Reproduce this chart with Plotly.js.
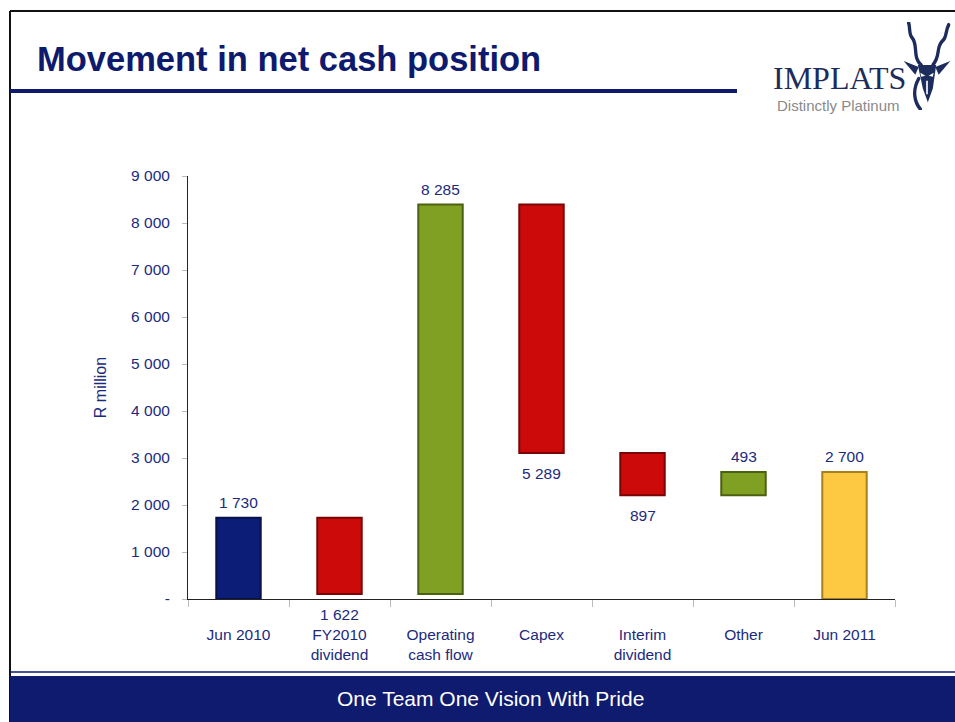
<!DOCTYPE html>
<html>
<head>
<meta charset="utf-8">
<script src="https://cdn.plot.ly/plotly-3.0.1.min.js"></script>
<style>
  html, body { margin: 0; padding: 0; background: #fff; }
  #chart { width: 955px; height: 722px; }
</style>
</head>
<body>
<div id="chart"></div>
<script>
// data (R million)
var categories = ['Jun 2010', 'FY2010<br>dividend', 'Operating<br>cash flow', 'Capex', 'Interim<br>dividend', 'Other', 'Jun 2011'];
var movements = [1730, -1622, 8285, -5289, -897, 493, 2700];
var measures = ['absolute', 'relative', 'relative', 'relative', 'relative', 'relative', 'total'];
var yTickVals = [0, 1000, 2000, 3000, 4000, 5000, 6000, 7000, 8000, 9000];
var yTickText = ['-', '1 000', '2 000', '3 000', '4 000', '5 000', '6 000', '7 000', '8 000', '9 000'];

// styling
var fillColors = ['#0c1d78', '#cc0a0a', '#80a023', '#cc0a0a', '#cc0a0a', '#80a023', '#fdc842'];
var edgeColors = ['#07114a', '#7a0505', '#4c6012', '#7a0505', '#7a0505', '#4c6012', '#a7801c'];
var navy = '#0d1a6e';
var textNavy = '#1b2a7e';
var font = 'Arial, "Liberation Sans", sans-serif';

// build floating bars: base + height
var bases = [], heights = [];
var running = 0;
movements.forEach(function (v, i) {
  if (measures[i] === 'absolute') {
    bases.push(0); heights.push(v); running = v;
  } else if (measures[i] === 'total') {
    bases.push(0); heights.push(running);
  } else {
    var start = running, end = running + v;
    bases.push(Math.min(start, end));
    heights.push(Math.abs(v));
    running = end;
  }
});

function fmt(n) {
  return String(Math.abs(n)).replace(/\B(?=(\d{3})+(?!\d))/g, ' ');
}

var trace = {
  type: 'bar',
  x: categories,
  y: heights,
  base: bases,
  marker: { color: fillColors, line: { color: edgeColors, width: 2 } },
  hoverinfo: 'skip'
};

// value labels: above rising bars, below falling bars
var annotations = movements.map(function (v, i) {
  var up = v >= 0;
  return {
    x: categories[i],
    y: up ? bases[i] + heights[i] : bases[i],
    xref: 'x', yref: 'y',
    text: fmt(v),
    showarrow: false,
    yanchor: up ? 'bottom' : 'top',
    yshift: up ? 5 : -10,
    font: { family: font, size: 15.5, color: textNavy }
  };
});

// plot area is x 188..895, y 176..599 in page pixels
var L = 188, R = 895, T = 176, B = 599;
function px(x) { return (x - L) / (R - L); }
function py(y) { return (B - y) / (B - T); }

annotations.push(
  { xref: 'paper', yref: 'paper', x: px(490), y: py(698), xanchor: 'center', yanchor: 'middle',
    text: 'One Team One Vision With Pride',
    showarrow: false, font: { family: font, size: 21, color: '#ffffff' } },
  { xref: 'paper', yref: 'paper', x: px(839), y: py(78), xanchor: 'center', yanchor: 'middle',
    text: 'IMPLATS',
    showarrow: false, font: { family: '"Liberation Serif", "DejaVu Serif", serif', size: 32, color: '#1c2c5c' } },
  { xref: 'paper', yref: 'paper', x: px(838), y: py(105), xanchor: 'center', yanchor: 'middle',
    text: 'Distinctly Platinum',
    showarrow: false, font: { family: font, size: 15, color: '#8a8a8a' } }
);

var shapes = [
  // slide frame
  { type: 'line', xref: 'paper', yref: 'paper', x0: px(10), x1: px(956), y0: py(11), y1: py(11),
    line: { color: '#111', width: 2 } },
  { type: 'line', xref: 'paper', yref: 'paper', x0: px(10), x1: px(10), y0: py(11), y1: py(722),
    line: { color: '#111', width: 2 } },
  // title rule
  { type: 'rect', xref: 'paper', yref: 'paper', x0: px(10), x1: px(737), y0: py(89), y1: py(93),
    fillcolor: navy, line: { width: 0 } },
  // footer
  { type: 'line', xref: 'paper', yref: 'paper', x0: px(10), x1: px(956), y0: py(672), y1: py(672),
    line: { color: navy, width: 1.5 } },
  { type: 'rect', xref: 'paper', yref: 'paper', x0: px(10), x1: px(956), y0: py(676), y1: py(722),
    fillcolor: '#0f1b6f', line: { width: 0 } }
];

// small antelope mark next to the wordmark
var headSvg = '<svg xmlns="http://www.w3.org/2000/svg" viewBox="0 0 60 90">' +
  '<g fill="none" stroke="#1c2c5c" stroke-width="4" stroke-linecap="round">' +
  '<path d="M23 44 C 12 36, 20 24, 12 16 C 8 12, 10 6, 8 1"/>' +
  '<path d="M37 44 C 47 34, 40 26, 49 19 C 54 15, 52 9, 56 3"/>' +
  '<path d="M20 58 C 12 70, 15 82, 22 89"/></g>' +
  '<g fill="#1c2c5c">' +
  '<path d="M19 44 L41 44 L37 68 L31 82 L25 68 Z"/>' +
  '<path d="M20 46 L2 40 L16 54 Z"/><path d="M40 46 L58 40 L44 54 Z"/></g>' +
  '<g fill="#fff"><path d="M22 52 L28 55 L23 56 Z"/><path d="M38 52 L32 55 L37 56 Z"/>' +
  '<path d="M29 60 L31 60 L31 74 L29 74 Z"/></g></svg>';

var layout = {
  width: 955,
  height: 722,
  margin: { l: L, r: 955 - R, t: T, b: 722 - B },
  paper_bgcolor: '#ffffff',
  plot_bgcolor: '#ffffff',
  showlegend: false,
  bargap: 0.56,
  font: { family: font, size: 15.5, color: textNavy },
  title: {
    text: '<b>Movement in net cash position</b>',
    xref: 'container', yref: 'container',
    x: 37 / 955, xanchor: 'left',
    y: 1 - 59 / 722, yanchor: 'middle',
    font: { family: font, size: 34.5, color: navy }
  },
  xaxis: {
    type: 'category',
    showline: true, linecolor: '#222', linewidth: 1,
    ticks: 'outside', tickson: 'boundaries', ticklen: 7, tickcolor: '#bbb',
    ticklabelstandoff: 21,
    tickfont: { family: font, size: 15.5, color: textNavy },
    showgrid: false, zeroline: false
  },
  yaxis: {
    range: [0, 9000],
    tickvals: yTickVals,
    ticktext: yTickText,
    showline: true, linecolor: '#222', linewidth: 1,
    ticks: 'outside', ticklen: 5, tickcolor: '#bbb',
    ticklabelstandoff: 9,
    tickfont: { family: font, size: 15.5, color: textNavy },
    showgrid: false, zeroline: false,
    title: { text: 'R million', standoff: 20, font: { family: font, size: 16, color: textNavy } }
  },
  images: [{
    source: 'data:image/svg+xml;charset=utf-8,' + encodeURIComponent(headSvg),
    xref: 'paper', yref: 'paper',
    x: px(902), y: py(22), sizex: px(952) - px(902), sizey: py(22) - py(110),
    xanchor: 'left', yanchor: 'top', sizing: 'stretch', layer: 'above'
  }],
  shapes: shapes,
  annotations: annotations
};

Plotly.newPlot('chart', [trace], layout, { displayModeBar: false, staticPlot: true });
</script>
</body>
</html>
